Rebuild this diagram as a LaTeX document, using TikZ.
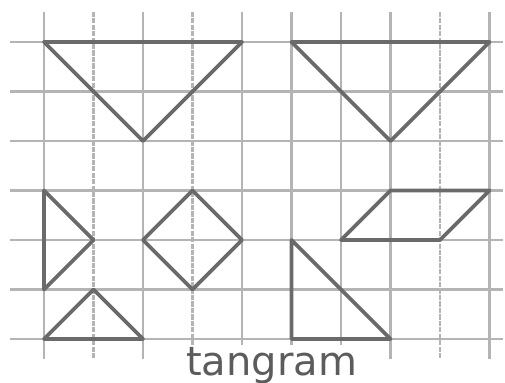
\documentclass[tikz,border=0pt]{standalone}
\usepackage{fontspec}
\setmainfont{DejaVu Sans}
\usetikzlibrary{positioning}

\definecolor{gridgray}{HTML}{B4B4B4}
\definecolor{piecegray}{HTML}{6A6A6A}
\definecolor{textgray}{HTML}{5C5C5C}

\begin{document}
\begin{tikzpicture}[
  gridline/.style={draw=gridgray, line width=1.6pt},
  dashline/.style={gridline, dash pattern=on 3pt off 0.7pt},
  piece/.style={draw=piecegray, line width=2.2pt, line join=round},
  lbl/.style={text=textgray, font=\fontsize{23}{25}\selectfont, inner sep=0pt},
]
  \useasboundingbox (-0.889,0.848) rectangle (9.313,-6.889);

  %% ── Grid ──
  \foreach \r in {0,...,6}
    \draw[gridline] (-0.69,-\r) -- (9.27,-\r);
  \foreach \c in {0,2,7,9}
    \draw[gridline] (\c,0.61) -- (\c,-6.4);
  \foreach \c in {1,8}
    \draw[dashline] (\c,0.61) -- (\c,-6.4);
  \foreach \c in {4,5,6}
    \draw[gridline] (\c,0.61) -- (\c,-6.2);
  \draw[dashline] (3,0.61) -- (3,-6.2);

  %% ── Tangram pieces ──
  \draw[piece] (0,0) -- (4,0) -- (2,-2) -- cycle;
  \draw[piece] (5,0) -- (9,0) -- (7,-2) -- cycle;
  \draw[piece] (7,-3) -- (9,-3) -- (8,-4) -- (6,-4) -- cycle;
  \draw[piece] (0,-3) -- (1,-4) -- (0,-5) -- cycle;
  \draw[piece] (3,-3) -- (4,-4) -- (3,-5) -- (2,-4) -- cycle;
  \draw[piece] (0,-6) -- (1,-5) -- (2,-6) -- cycle;
  \draw[piece] (5,-4) -- (5,-6) -- (7,-6) -- cycle;

  %% ── Caption ──
  \node[lbl, anchor=base, fill=white, inner sep=1pt] (title) at (4.6,-6.73) {tangram};
\end{tikzpicture}
\end{document}
